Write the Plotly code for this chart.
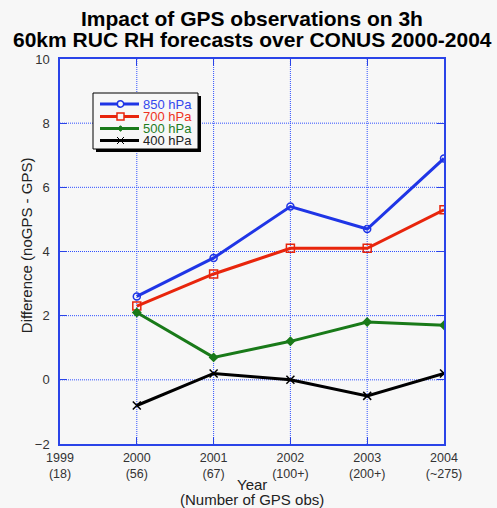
import plotly.graph_objects as go

years = [2000, 2001, 2002, 2003, 2004]
tick_years = [1999, 2000, 2001, 2002, 2003, 2004]
tick_counts = ["(18)", "(56)", "(67)", "(100+)", "(200+)", "(~275)"]

hpa850 = [2.6, 3.8, 5.4, 4.7, 6.9]
hpa700 = [2.3, 3.3, 4.1, 4.1, 5.3]
hpa500 = [2.1, 0.7, 1.2, 1.8, 1.7]
hpa400 = [-0.8, 0.2, 0.0, -0.5, 0.2]

series_names = ["850 hPa", "700 hPa", "500 hPa", "400 hPa"]
series_values = [hpa850, hpa700, hpa500, hpa400]
colors = ["#1f35e6", "#e8250c", "#197a19", "#000000"]
text_colors = ["#3347ee", "#ee3322", "#1f7d1f", "#222222"]
symbols = ["circle-open", "square-open", "diamond", "x-thin"]
msizes = [7, 8, 6, 8]

W, H = 497, 508
L, R, T, B = 60, 53, 59, 64
PW = W - L - R
PH = H - T - B
BG = "#f7f7f7"
AXC = "#2a44e8"
GRIDC = "#2f50ff"
FONT = "Liberation Sans, Arial, Helvetica, sans-serif"


def px(x):
    return (x - L) / PW


def py(y):
    return (H - B - y) / PH


fig = go.Figure()
for name, vals, c, sym, ms in zip(series_names, series_values, colors, symbols, msizes):
    fig.add_trace(go.Scatter(
        x=years, y=vals, mode="lines+markers", name=name,
        line=dict(color=c, width=3),
        marker=dict(symbol=sym, size=ms, color=c, line=dict(color=c, width=1.5)),
        showlegend=False,
    ))

shapes = []
annotations = []

# Grid lines drawn as dotted shapes at the tick values
y_ticks = [-2, 0, 2, 4, 6, 8, 10]
for xv in tick_years[1:-1]:
    shapes.append(dict(type="line", xref="x", yref="paper", layer="below",
                       x0=xv, x1=xv, y0=0, y1=1,
                       line=dict(color=GRIDC, width=1, dash="1px,1px")))
for yv in y_ticks[1:-1]:
    shapes.append(dict(type="line", xref="paper", yref="y", layer="below",
                       x0=0, x1=1, y0=yv, y1=yv,
                       line=dict(color=GRIDC, width=1, dash="1px,1px")))

# Legend box with drop shadow
bx0, bx1, by0, by1 = 93, 198, 93, 149
shapes.append(dict(type="rect", xref="paper", yref="paper", layer="above",
                   x0=px(bx0 + 3), x1=px(bx1 + 3), y0=py(by0 + 3), y1=py(by1 + 3),
                   fillcolor="#000000", line=dict(width=0)))
shapes.append(dict(type="rect", xref="paper", yref="paper", layer="above",
                   x0=px(bx0), x1=px(bx1), y0=py(by0), y1=py(by1),
                   fillcolor=BG, line=dict(color="#000000", width=1)))

item_y = [104, 116.5, 128.5, 140.5]
lx0, lx1, mx = 100, 139, 120.5
for i, (name, c, tc) in enumerate(zip(series_names, colors, text_colors)):
    yy = item_y[i]
    shapes.append(dict(type="line", xref="paper", yref="paper", layer="above",
                       x0=px(lx0), x1=px(lx1), y0=py(yy), y1=py(yy),
                       line=dict(color=c, width=3)))
    if i == 0:
        r = 3.2
        shapes.append(dict(type="circle", xref="paper", yref="paper", layer="above",
                           x0=px(mx - r), x1=px(mx + r), y0=py(yy - r), y1=py(yy + r),
                           fillcolor=BG, line=dict(color=c, width=1.5)))
    elif i == 1:
        r = 3.5
        shapes.append(dict(type="rect", xref="paper", yref="paper", layer="above",
                           x0=px(mx - r), x1=px(mx + r), y0=py(yy - r), y1=py(yy + r),
                           fillcolor=BG, line=dict(color=c, width=1.5)))
    elif i == 2:
        r = 2.8
        path = "M {:.5f},{:.5f} L {:.5f},{:.5f} L {:.5f},{:.5f} L {:.5f},{:.5f} Z".format(
            px(mx - r), py(yy), px(mx), py(yy - r), px(mx + r), py(yy), px(mx), py(yy + r))
        shapes.append(dict(type="path", xref="paper", yref="paper", layer="above",
                           path=path, fillcolor=c, line=dict(color=c, width=1)))
    else:
        r = 3.5
        shapes.append(dict(type="line", xref="paper", yref="paper", layer="above",
                           x0=px(mx - r), x1=px(mx + r), y0=py(yy - r), y1=py(yy + r),
                           line=dict(color=c, width=1)))
        shapes.append(dict(type="line", xref="paper", yref="paper", layer="above",
                           x0=px(mx - r), x1=px(mx + r), y0=py(yy + r), y1=py(yy - r),
                           line=dict(color=c, width=1)))
    annotations.append(dict(text=name, xref="paper", yref="paper",
                            x=px(141), y=py(yy), xanchor="left", yanchor="middle",
                            showarrow=False, font=dict(family=FONT, size=13, color=tc)))

# Titles
annotations.append(dict(text="<b>Impact of GPS observations on 3h</b>", xref="paper", yref="paper",
                        x=0.5, y=py(19), xanchor="center", yanchor="middle", showarrow=False,
                        font=dict(family=FONT, size=21, color="#000000")))
annotations.append(dict(text="<b>60km RUC RH forecasts over CONUS 2000-2004</b>", xref="paper", yref="paper",
                        x=0.5, y=py(39.5), xanchor="center", yanchor="middle", showarrow=False,
                        font=dict(family=FONT, size=21, color="#000000")))
annotations.append(dict(text="Year", xref="paper", yref="paper",
                        x=0.5, y=py(485), xanchor="center", yanchor="middle", showarrow=False,
                        font=dict(family=FONT, size=15, color="#222222")))
annotations.append(dict(text="(Number of GPS obs)", xref="paper", yref="paper",
                        x=0.5, y=py(499.5), xanchor="center", yanchor="middle", showarrow=False,
                        font=dict(family=FONT, size=15, color="#222222")))
annotations.append(dict(text="Difference (noGPS - GPS)", xref="paper", yref="paper",
                        x=px(26.7), y=py(245.5), xanchor="center", yanchor="middle",
                        textangle=-90, showarrow=False,
                        font=dict(family=FONT, size=15, color="#222222")))

tick_text = [f"{y}<br>{c}" for y, c in zip(tick_years, tick_counts)]

axis_common = dict(
    showline=True, linecolor=AXC, linewidth=1.5, mirror="ticks",
    ticks="inside", ticklen=7, tickcolor=AXC, tickwidth=1,
    showgrid=False, zeroline=False,
)

fig.update_layout(
    width=W, height=H,
    margin=dict(l=L, r=R, t=T, b=B, pad=0),
    paper_bgcolor=BG, plot_bgcolor=BG,
    xaxis=dict(range=[1999, 2004], tickvals=tick_years, ticktext=tick_text,
               ticklabelstandoff=1,
               tickfont=dict(family=FONT, size=12.5, color="#333333"), **axis_common),
    yaxis=dict(range=[-2, 10], tickvals=y_ticks,
               ticklabelstandoff=6,
               tickfont=dict(family=FONT, size=13, color="#333333"), **axis_common),
    shapes=shapes,
    annotations=annotations,
    showlegend=False,
)

fig.write_html("out.html")
